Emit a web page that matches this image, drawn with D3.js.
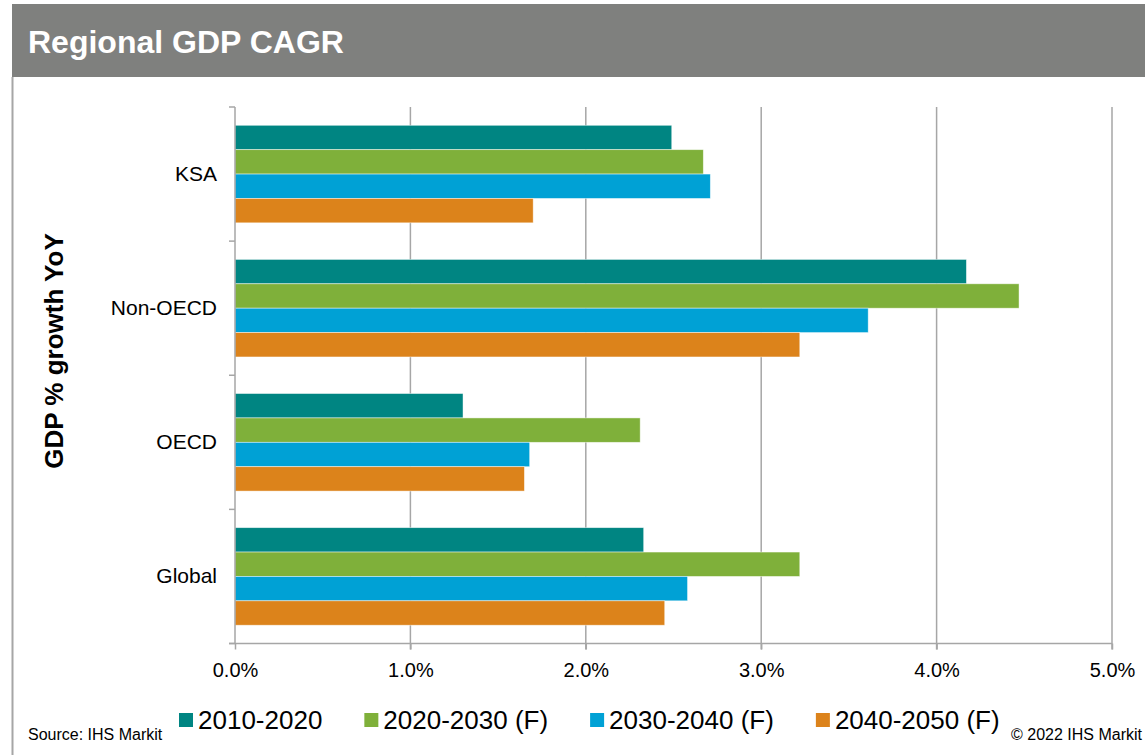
<!DOCTYPE html>
<html>
<head>
<meta charset="utf-8">
<script src="https://cdn.jsdelivr.net/npm/d3@7"></script>
<style>
  body { margin: 0; background: #fff; }
  svg { display: block; font-family: Arial, "Liberation Sans", sans-serif; }
</style>
</head>
<body>
<script>
// the data
var regions = ["KSA", "Non-OECD", "OECD", "Global"];
var periods = ["2010-2020", "2020-2030 (F)", "2030-2040 (F)", "2040-2050 (F)"];
var gdp2010 = [2.49, 4.17, 1.30, 2.33];
var gdp2020 = [2.67, 4.47, 2.31, 3.22];
var gdp2030 = [2.71, 3.61, 1.68, 2.58];
var gdp2040 = [1.70, 3.22, 1.65, 2.45];
var xTicks = [0, 1, 2, 3, 4, 5];
var colors = ["#008582", "#7fb03a", "#00a1d5", "#dc831b"];

var series = [gdp2010, gdp2020, gdp2030, gdp2040];

// set the dimensions
var W = 1145, H = 755;
var plot = {left: 235, right: 1112, top: 107, bottom: 643.5};

var svg = d3.select("body")
    .append("svg")
        .attr("width", W)
        .attr("height", H);

// title bar
svg.append("rect")
    .attr("x", 12).attr("y", 4)
    .attr("width", W - 12).attr("height", 73)
    .style("fill", "#7f807e");

svg.append("text")
    .attr("x", 28).attr("y", 53)
    .style("fill", "#fff")
    .style("font-size", "32px")
    .style("font-weight", "bold")
    .text("Regional GDP CAGR");

// left frame line
svg.append("line")
    .attr("x1", 12.5).attr("x2", 12.5)
    .attr("y1", 77).attr("y2", H)
    .style("stroke", "#a6a6a6")
    .style("stroke-width", 2);

// set the ranges
var x = d3.scaleLinear().domain([0, 5]).range([plot.left, plot.right]);
var y0 = d3.scaleBand().domain(regions).range([plot.top, plot.bottom]);
var y1 = d3.scaleBand().domain(d3.range(periods.length))
    .range([0, y0.bandwidth()]).paddingOuter(0.75);

// gridlines
svg.append("g")
    .selectAll("line")
    .data(xTicks.slice(1))
    .enter().append("line")
        .attr("x1", function(d) { return x(d); })
        .attr("x2", function(d) { return x(d); })
        .attr("y1", plot.top)
        .attr("y2", plot.bottom + 6)
        .style("stroke", "#a6a6a6")
        .style("stroke-width", 1.5);

// bars
var groups = svg.append("g")
    .selectAll("g")
    .data(regions)
    .enter().append("g")
        .attr("transform", function(d) { return "translate(0," + y0(d) + ")"; });

groups.selectAll("rect")
    .data(function(d, i) { return series.map(function(s, j) { return {k: j, v: s[i]}; }); })
    .enter().append("rect")
        .attr("x", x(0))
        .attr("y", function(d) { return y1(d.k); })
        .attr("width", function(d) { return x(d.v) - x(0); })
        .attr("height", y1.bandwidth())
        .style("fill", function(d) { return colors[d.k]; })
        .style("stroke", "#fff")
        .style("stroke-opacity", 0.6)
        .style("stroke-width", 0.75);

// the X axis
var xAxis = svg.append("g")
    .attr("transform", "translate(0," + plot.bottom + ")")
    .call(d3.axisBottom(x).tickValues(xTicks).tickSize(6).tickPadding(13)
        .tickFormat(function(d) { return d.toFixed(1) + "%"; }));
xAxis.select(".domain").remove();
xAxis.append("line")
    .attr("x1", plot.left - 6).attr("x2", plot.right)
    .style("stroke", "#a6a6a6").style("stroke-width", 1.5);
xAxis.selectAll(".tick line").style("stroke", "#a6a6a6").style("stroke-width", 1.5);
xAxis.selectAll("text")
    .style("font-size", "20px")
    .style("font-family", "Arial, 'Liberation Sans', sans-serif")
    .style("fill", "#000");

// the Y axis
var yAxis = svg.append("g")
    .attr("transform", "translate(" + plot.left + ",0)")
    .call(d3.axisLeft(y0).tickSize(0).tickPadding(18));
yAxis.select(".domain").remove();
yAxis.append("line")
    .attr("y1", plot.top).attr("y2", plot.bottom)
    .style("stroke", "#a6a6a6").style("stroke-width", 1.5);
yAxis.selectAll("text")
    .style("font-size", "21px")
    .style("font-family", "Arial, 'Liberation Sans', sans-serif")
    .style("fill", "#000");

// category boundary ticks
svg.append("g")
    .selectAll("line")
    .data(d3.range(regions.length + 1))
    .enter().append("line")
        .attr("x1", plot.left - 6).attr("x2", plot.left)
        .attr("y1", function(d) { return plot.top + d * y0.step(); })
        .attr("y2", function(d) { return plot.top + d * y0.step(); })
        .style("stroke", "#a6a6a6")
        .style("stroke-width", 1.5);

// Y axis title
svg.append("text")
    .attr("transform", "translate(63,351) rotate(-90)")
    .attr("text-anchor", "middle")
    .style("font-size", "26px")
    .style("font-weight", "bold")
    .text("GDP % growth YoY");

// legend
var legend = svg.append("g");
var lx = 179;
periods.forEach(function(p, i) {
  legend.append("rect")
      .attr("x", lx).attr("y", 713)
      .attr("width", 14).attr("height", 14)
      .style("fill", colors[i]);
  var t = legend.append("text")
      .attr("x", lx + 19).attr("y", 729)
      .style("font-size", "26px")
      .text(p);
  lx += 19 + t.node().getComputedTextLength() + 42;
});

// footer
svg.append("text")
    .attr("x", 28).attr("y", 740)
    .style("font-size", "16px")
    .text("Source: IHS Markit");

svg.append("text")
    .attr("x", 1142).attr("y", 740)
    .attr("text-anchor", "end")
    .style("font-size", "16px")
    .text("\u00a9 2022 IHS Markit");
</script>
</body>
</html>
